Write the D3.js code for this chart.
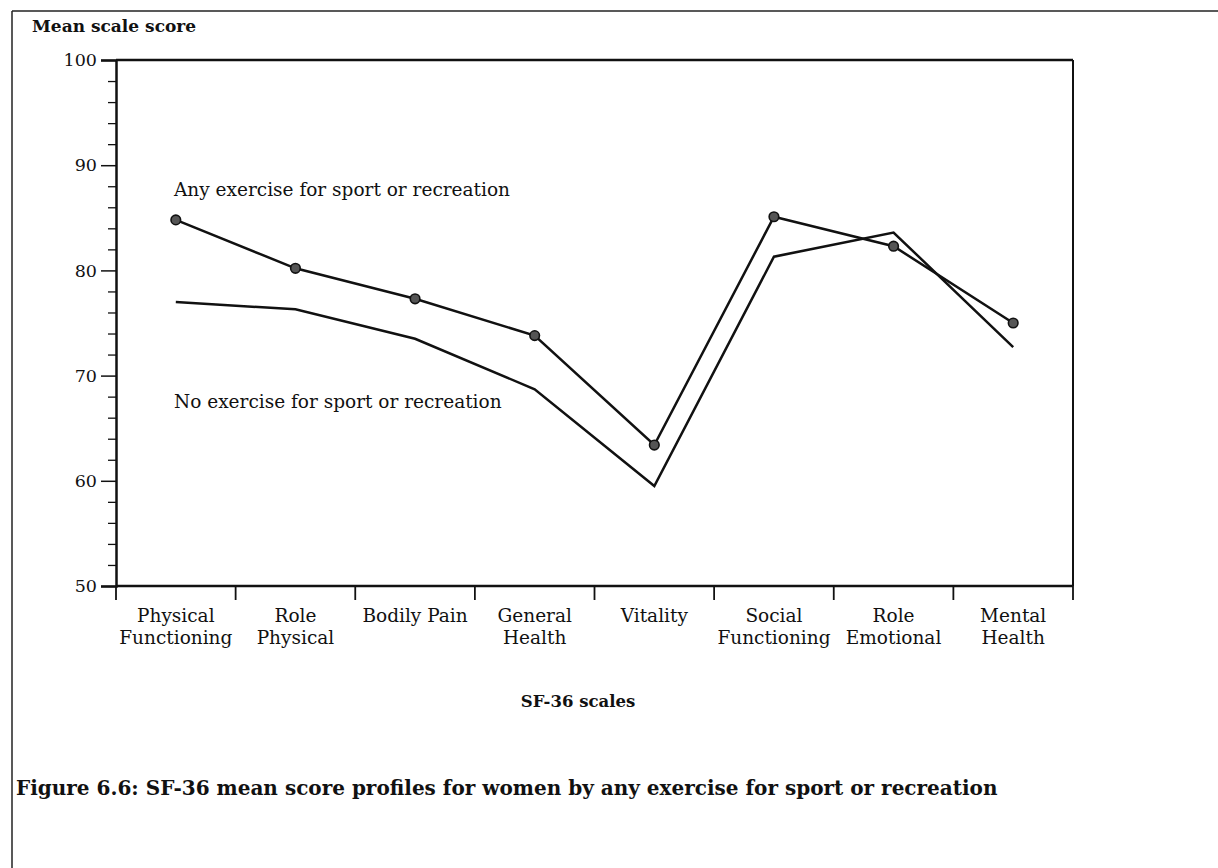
<!DOCTYPE html>
<html>
<head>
<meta charset="utf-8">
<script src="https://cdn.jsdelivr.net/npm/d3@7"></script>
<style>
  body { margin: 0; background: #fff; }
  svg { display: block; }
  text { font-family: "DejaVu Serif", "Liberation Serif", serif; fill: #111; }
</style>
</head>
<body>
<div id="chart"></div>
<script>
const categories = ['Physical Functioning', 'Role Physical', 'Bodily Pain', 'General Health',
                    'Vitality', 'Social Functioning', 'Role Emotional', 'Mental Health']
const categoryLines = [['Physical', 'Functioning'], ['Role', 'Physical'], ['Bodily Pain'], ['General', 'Health'],
                       ['Vitality'], ['Social', 'Functioning'], ['Role', 'Emotional'], ['Mental', 'Health']]
const anyExercise = [84.8, 80.2, 77.3, 73.8, 63.4, 85.1, 82.3, 75.0]
const noExercise = [77.0, 76.3, 73.5, 68.7, 59.5, 81.3, 83.6, 72.7]
const yTicks = [50, 60, 70, 80, 90, 100]
const yMinorTicks = d3.range(50, 101, 2)

const width = 1218, height = 868
const plot = {left: 116, right: 1073, top: 60, bottom: 586}

const svg = d3.select('#chart').append('svg')
    .attr('width', width)
    .attr('height', height)

// page frame (scanned figure box)
svg.append('line').attr('x1', 12).attr('x2', width).attr('y1', 11).attr('y2', 11)
    .attr('stroke', '#222').attr('stroke-width', 1.5)
svg.append('line').attr('x1', 12).attr('x2', 12).attr('y1', 11).attr('y2', height)
    .attr('stroke', '#222').attr('stroke-width', 1.5)

const x = d3.scaleBand().domain(categories).range([plot.left, plot.right]).padding(0)
const y = d3.scaleLinear().domain([50, 100]).range([plot.bottom, plot.top])
const cx = d => x(d) + x.bandwidth() / 2

// y axis, major + minor ticks
const yAxis = svg.append('g')
    .attr('transform', `translate(${plot.left},0)`)
    .call(d3.axisLeft(y).tickValues(yTicks).tickSize(15).tickPadding(4).tickFormat(d3.format('d')))
yAxis.select('.domain').attr('stroke', '#111').attr('stroke-width', 2.5)
yAxis.selectAll('.tick line').attr('stroke', '#111').attr('stroke-width', 1.5)
yAxis.selectAll('.tick text').style('font-size', '17.5px')

const yMinor = svg.append('g')
    .attr('transform', `translate(${plot.left},0)`)
    .call(d3.axisLeft(y).tickValues(yMinorTicks.filter(v => !yTicks.includes(v))).tickSize(8).tickFormat(''))
yMinor.select('.domain').remove()
yMinor.selectAll('.tick line').attr('stroke', '#111').attr('stroke-width', 1.3)

// box top and right
svg.append('line').attr('x1', plot.left).attr('x2', plot.right).attr('y1', plot.top).attr('y2', plot.top)
    .attr('stroke', '#111').attr('stroke-width', 2.5)
svg.append('line').attr('x1', plot.right).attr('x2', plot.right).attr('y1', plot.top).attr('y2', plot.bottom)
    .attr('stroke', '#111').attr('stroke-width', 2)

// x axis
svg.append('line').attr('x1', plot.left).attr('x2', plot.right).attr('y1', plot.bottom).attr('y2', plot.bottom)
    .attr('stroke', '#111').attr('stroke-width', 2.5)
const bounds = categories.map(c => x(c)).concat([plot.right])
svg.append('g').selectAll('line').data(bounds).join('line')
    .attr('x1', d => d).attr('x2', d => d)
    .attr('y1', plot.bottom).attr('y2', plot.bottom + 14)
    .attr('stroke', '#111').attr('stroke-width', 1.8)

svg.append('g').selectAll('text').data(categories).join('text')
    .attr('x', d => cx(d))
    .attr('y', plot.bottom + 36)
    .attr('text-anchor', 'middle')
    .style('font-size', '18.5px')
    .selectAll('tspan').data((d, i) => categoryLines[i]).join('tspan')
        .attr('x', function() { return d3.select(this.parentNode).attr('x') })
        .attr('dy', (d, i) => i === 0 ? 0 : 22)
        .text(d => d)

// axis titles
svg.append('text').attr('x', 32).attr('y', 32)
    .style('font-size', '17px').style('font-weight', 'bold')
    .text('Mean scale score')
svg.append('text').attr('x', 578).attr('y', 707).attr('text-anchor', 'middle')
    .style('font-size', '16.5px').style('font-weight', 'bold')
    .text('SF-36 scales')

// lines
const line = d3.line().x((d, i) => cx(categories[i])).y(d => y(d))
svg.append('path').datum(noExercise)
    .attr('d', line).attr('fill', 'none')
    .attr('stroke', '#111').attr('stroke-width', 2.5).attr('stroke-linejoin', 'miter')
svg.append('path').datum(anyExercise)
    .attr('d', line).attr('fill', 'none')
    .attr('stroke', '#111').attr('stroke-width', 2.5).attr('stroke-linejoin', 'miter')

svg.append('g').selectAll('circle').data(anyExercise).join('circle')
    .attr('cx', (d, i) => cx(categories[i]))
    .attr('cy', d => y(d))
    .attr('r', 4.8)
    .attr('fill', '#555')
    .attr('stroke', '#111')
    .attr('stroke-width', 1.6)

// series labels
svg.append('text').attr('x', 174).attr('y', 196)
    .style('font-size', '18.5px')
    .text('Any exercise for sport or recreation')
svg.append('text').attr('x', 174).attr('y', 408)
    .style('font-size', '18.5px')
    .text('No exercise for sport or recreation')

// caption
svg.append('text').attr('x', 16).attr('y', 795)
    .style('font-size', '20px').style('font-weight', 'bold')
    .text('Figure 6.6: SF-36 mean score profiles for women by any exercise for sport or recreation')
</script>
</body>
</html>
